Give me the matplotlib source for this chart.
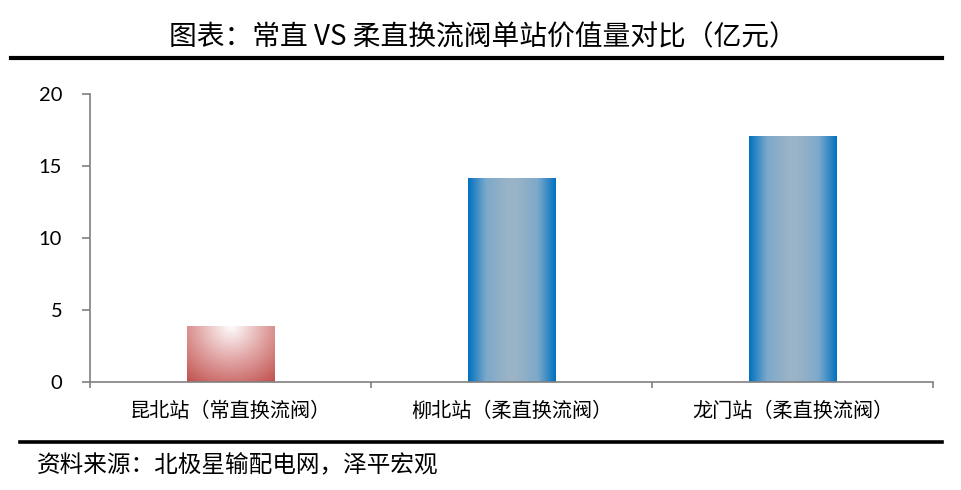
import numpy as np
import matplotlib
matplotlib.use('Agg')
import matplotlib.pyplot as plt
from matplotlib.colors import LinearSegmentedColormap
from matplotlib.lines import Line2D

plt.rcParams['font.family'] = ['Noto Sans CJK SC', 'DejaVu Sans']

categories = ['昆北站（常直换流阀）', '柳北站（柔直换流阀）', '龙门站（柔直换流阀）']
values = [3.9, 14.2, 17.1]
yticks = [0, 5, 10, 15, 20]
title = '图表：常直 VS 柔直换流阀单站价值量对比（亿元）'
source = '资料来源：北极星输配电网，泽平宏观'

red_cmap = LinearSegmentedColormap.from_list('r', ['#ffffff', '#e0a3a2', '#c0504d'])
blue_cmap = LinearSegmentedColormap.from_list('b', ['#9cb4c7', '#7ba9cb', '#0070c0'])

fig = plt.figure(figsize=(9.62, 4.90), dpi=100)
ax = fig.add_axes([90/962, 108/490, 843/962, 288/490])

x = np.arange(len(categories))
width = 0.31
bars = ax.bar(x, values, width=width, color='none', edgecolor='none')

for i, b in enumerate(bars):
    x0, h = b.get_x(), b.get_height()
    if i == 0:
        # radial gradient from top centre
        gx, gy = np.meshgrid(np.linspace(-1, 1, 200), np.linspace(0, 1, 200))
        r = np.sqrt(gx**2 * 0.55 + gy**2 * 0.9)
        img, cm = r / r.max(), red_cmap
    else:
        gx = np.linspace(-1, 1, 300)
        img, cm = np.tile(np.abs(gx) ** 1.3, (10, 1)), blue_cmap
    im = ax.imshow(img, cmap=cm, extent=[x0, x0 + width, 0, h], origin='upper',
                   aspect='auto', vmin=0, vmax=1, zorder=2)
    im.set_clip_path(b)

ax.set_xlim(-0.5, 2.5)
ax.set_ylim(0, 20)
ax.set_yticks(yticks)
ax.set_xticks(x)
ax.set_xticklabels(categories, fontsize=14.5, fontweight='medium')
ax.set_xticks([-0.5, 0.5, 1.5, 2.5], minor=True)
ax.tick_params(axis='x', which='major', length=0, pad=14)
ax.tick_params(axis='x', which='minor', length=4, width=1.2, color='#808080')
ax.tick_params(axis='y', length=6, width=1.2, color='#808080', pad=14)
for lab in ax.get_yticklabels():
    lab.set_family(['Lato', 'DejaVu Sans'])
    lab.set_fontsize(14.5)
for s in ['top', 'right']:
    ax.spines[s].set_visible(False)
for s in ['left', 'bottom']:
    ax.spines[s].set_color('#808080')
    ax.spines[s].set_linewidth(1.2)

fig.text(483/962, 1 - 37/490, title, ha='center', va='center', fontsize=20)
fig.add_artist(Line2D([11/962, 942/962], [1 - 58/490] * 2, color='black', lw=3,
                      transform=fig.transFigure))
fig.add_artist(Line2D([20/962, 942/962], [1 - 441.5/490] * 2, color='black', lw=2.6,
                      transform=fig.transFigure))
fig.text(37/962, 1 - 466/490, source, ha='left', va='center', fontsize=17,
         style='italic')

fig.savefig('out.png', dpi=100)
